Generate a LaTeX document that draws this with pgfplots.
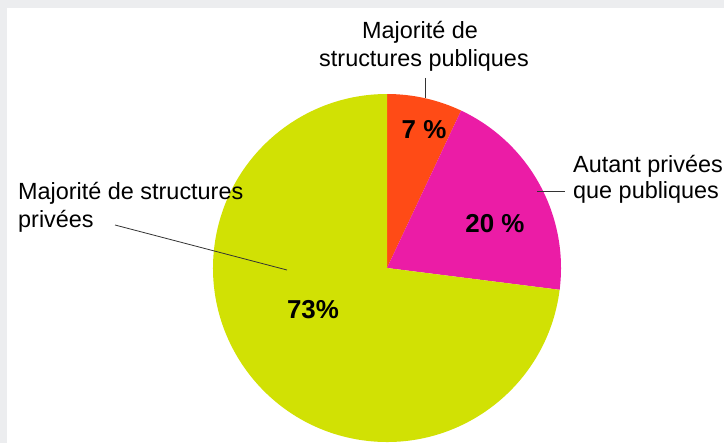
\documentclass[border=0pt]{standalone}
\usepackage{pgfplots}
\pgfplotsset{compat=1.18}
\usepackage{pgfplotstable}
\usepackage{fontspec}
\setmainfont{Liberation Sans}

\definecolor{pubcol}{HTML}{FF4B16}
\definecolor{mixcol}{HTML}{EB1CA6}
\definecolor{privcol}{HTML}{D1E104}
\definecolor{framecol}{HTML}{ECEDEF}
\definecolor{leadcol}{HTML}{333333}

% shares in percent, clockwise from 12 o'clock
\pgfplotstableread{
share
7
20
73
}\pietable

\begin{document}
\begin{tikzpicture}
\pgfplotstablegetelem{0}{share}\of\pietable \let\vPub\pgfplotsretval
\pgfplotstablegetelem{1}{share}\of\pietable \let\vMix\pgfplotsretval
\pgfplotstablegetelem{2}{share}\of\pietable \let\vPriv\pgfplotsretval
\pgfmathsetmacro\aA{90-3.6*\vPub}
\pgfmathsetmacro\aB{\aA-3.6*\vMix}
\pgfmathsetmacro\aC{\aB-3.6*\vPriv}
\begin{axis}[
    scale only axis,
    width=724bp, height=443bp,
    xmin=0, xmax=724, ymin=0, ymax=443,
    y dir=reverse,
    hide axis,
  ]
  \fill[framecol] (axis cs:0,0) rectangle (axis cs:724,443);
  \fill[white] (axis cs:7,8) rectangle (axis cs:724,443);

  \fill[pubcol] (axis cs:387,268) -- ++(90:174bp)
    arc[start angle=90, end angle=\aA, radius=174bp] -- cycle;
  \fill[mixcol] (axis cs:387,268) -- ++(\aA:174bp)
    arc[start angle=\aA, end angle=\aB, radius=174bp] -- cycle;
  \fill[privcol] (axis cs:387,268) -- ++(\aB:174bp)
    arc[start angle=\aB, end angle=\aC, radius=174bp] -- cycle;

  \draw[leadcol, line width=0.8bp] (axis cs:425,78) -- (axis cs:425,98);
  \draw[leadcol, line width=0.8bp] (axis cs:537,191) -- (axis cs:565,191);
  \draw[leadcol, line width=0.8bp] (axis cs:115,225) -- (axis cs:287,270);

  \begin{scope}[every node/.style={font=\fontsize{23.5}{28}\selectfont, inner sep=0pt}]
    \node[anchor=base] at (axis cs:420,39) {Majorité de};
    \node[anchor=base] at (axis cs:424,67) {structures publiques};
    \node[anchor=base west] at (axis cs:573,172) {Autant privées};
    \node[anchor=base west] at (axis cs:573,198) {que publiques};
    \node[anchor=base west] at (axis cs:18,199) {Majorité de structures};
    \node[anchor=base west] at (axis cs:18,227) {privées};
  \end{scope}

  \begin{scope}[every node/.style={font=\fontsize{26}{30}\selectfont\bfseries, inner sep=0pt}]
    \node[anchor=base] at (axis cs:424,138) {\vPub{} \%};
    \node[anchor=base] at (axis cs:495,232) {\vMix{} \%};
    \node[anchor=base] at (axis cs:313,318) {\vPriv\%};
  \end{scope}
\end{axis}
\end{tikzpicture}
\end{document}
